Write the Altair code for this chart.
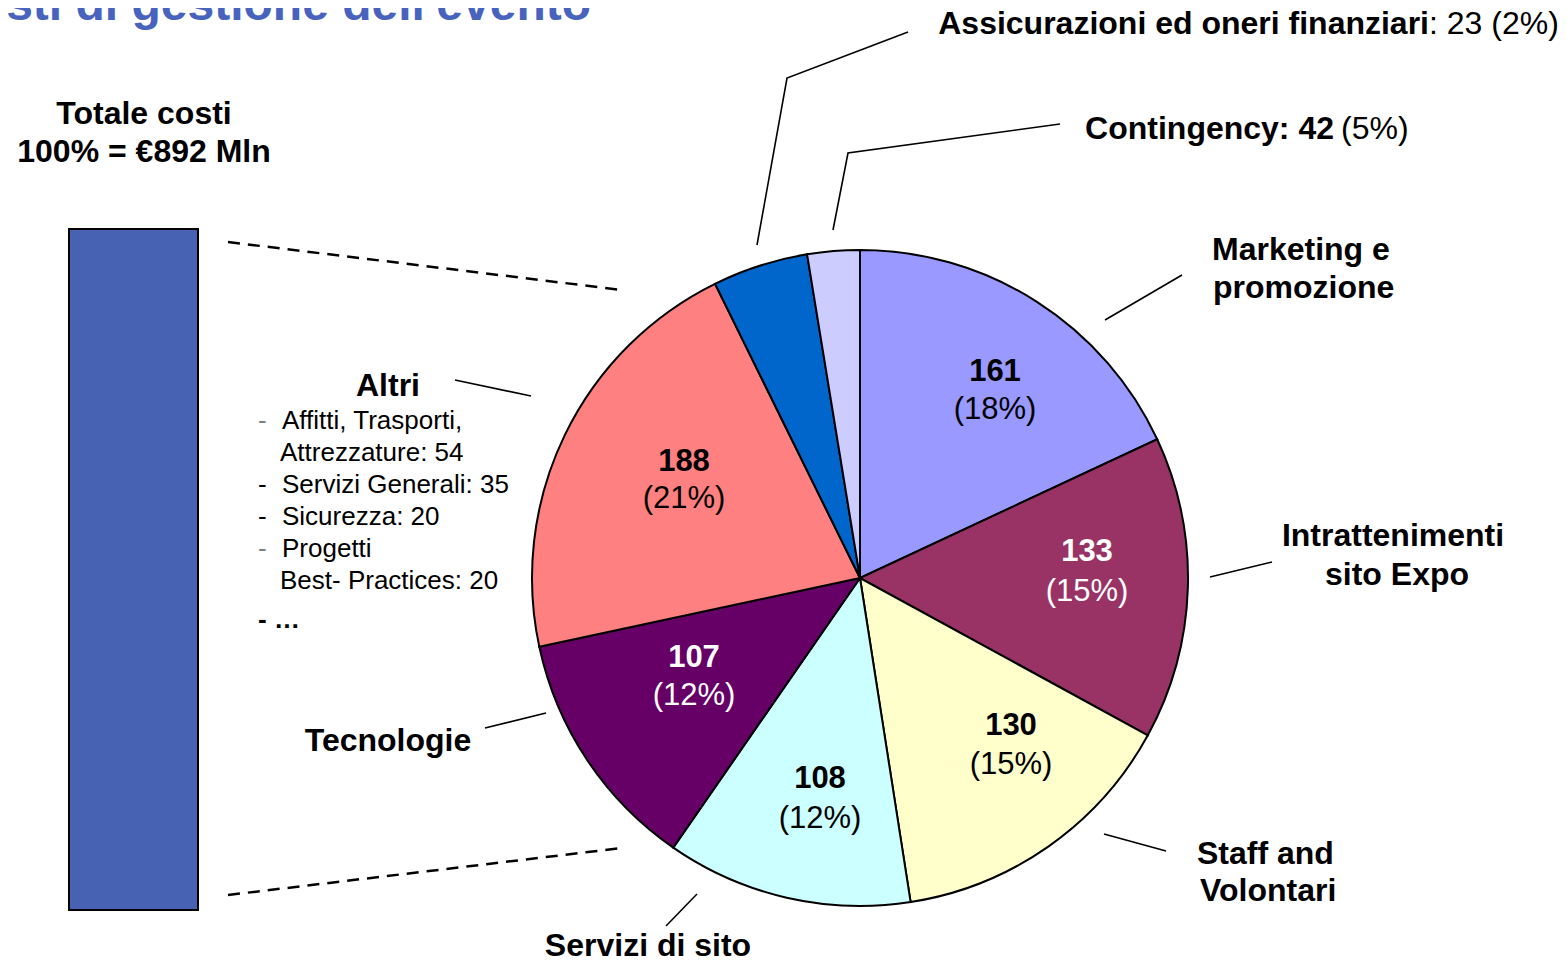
import altair as alt
import pandas as pd

# ---------------- data ----------------
categories = ["Marketing e promozione", "Intrattenimenti sito Expo", "Staff and Volontari",
              "Servizi di sito", "Tecnologie", "Altri", "Contingency",
              "Assicurazioni ed oneri finanziari"]
values = [161, 133, 130, 108, 107, 188, 42, 23]
percents = [18, 15, 15, 12, 12, 21, 5, 2]
colors = ["#9999FF", "#993366", "#FFFFCC", "#CCFFFF", "#660066", "#FF8080", "#0066CC", "#CCCCFF"]
total_label = ["Totale costi", "100% = €892 Mln"]
altri_items = ["Affitti, Trasporti,", "Attrezzature: 54", "Servizi Generali: 35",
               "Sicurezza: 20", "Progetti", "Best- Practices: 20"]
title_text = "Costi di gestione dell'evento"

# ---------------- layout (page pixel coordinates) ----------------
W, H = 1550, 953
FONT = "Liberation Sans"
xs = alt.Scale(domain=[8, 8 + W], nice=False, zero=False)
ys = alt.Scale(domain=[8, 8 + H], nice=False, zero=False, reverse=True)
X = alt.X("x:Q", scale=xs, axis=None)
Y = alt.Y("y:Q", scale=ys, axis=None)
X2 = alt.X2("x2:Q")
Y2 = alt.Y2("y2:Q")

PIE_CX, PIE_CY, PIE_R = 860, 578, 328

# inner label positions per slice (value line, percent line)
inner_pos = {
    "Marketing e promozione": (995, 372, 410),
    "Intrattenimenti sito Expo": (1087, 552, 592),
    "Staff and Volontari": (1011, 726, 765),
    "Servizi di sito": (820, 779, 819),
    "Tecnologie": (694, 658, 696),
    "Altri": (684, 462, 499),
}
dark = {"Intrattenimenti sito Expo", "Tecnologie"}

pie_df = pd.DataFrame({"cat": categories, "value": values, "idx": list(range(len(values)))})

rows = []
def add(text, x, y, style):
    rows.append({"text": text, "x": x, "y": y, "style": style})

add(title_text, 591, 20, "title")
add(total_label[0], 144, 114, "bold_c")
add(total_label[1], 144, 152, "bold_c")
add("Altri", 388, 386, "bold_c")
add("Tecnologie", 388, 741, "bold_c")
add("Servizi di sito", 648, 946, "bold_c")
add("Intrattenimenti", 1393, 536, "bold_c")
add("sito Expo", 1397, 575, "bold_c")
add("Marketing e", 1212, 250, "bold_l")
add("promozione", 1213, 288, "bold_l")
add("Staff and", 1197, 854, "bold_l")
add("Volontari", 1200, 891, "bold_l")
add("Assicurazioni ed oneri finanziari", 1429, 24, "bold_r")
add(": %d (%d%%)" % (values[7], percents[7]), 1429, 24, "reg_l")
add("Contingency: %d" % values[6], 1334, 129, "bold_r")
add("(%d%%)" % percents[6], 1341, 129, "reg_l")
for c, v, p in zip(categories, values, percents):
    if c in inner_pos:
        px, vy, py = inner_pos[c]
        suffix = "_w" if c in dark else ""
        add(str(v), px, vy, "val" + suffix)
        add("(%d%%)" % p, px, py, "pct" + suffix)
# Altri list
list_y = [421, 453, 485, 517, 549, 581]
list_x = [282, 280, 282, 282, 282, 280]
for t, lx, ly in zip(altri_items, list_x, list_y):
    add(t, lx, ly, "list")
add("-", 258, 421, "list_gray")
add("-", 258, 485, "list")
add("-", 258, 517, "list")
add("-", 258, 549, "list_gray")
add("- …", 258, 620, "list_bold")
text_df = pd.DataFrame(rows)

# leader lines (solid)
leaders = [
    ("ass", [(908, 32), (787, 78), (757, 245)]),
    ("con", [(1060, 124), (848, 153), (833, 230)]),
    ("mkt", [(1182, 275), (1105, 320)]),
    ("int", [(1272, 562), (1210, 577)]),
    ("stf", [(1166, 851), (1104, 834)]),
    ("srv", [(697, 894), (666, 926)]),
    ("tec", [(485, 728), (546, 713)]),
    ("alt", [(455, 380), (531, 396)]),
]
lead_rows = []
for lid, pts in leaders:
    for i, (px, py) in enumerate(pts):
        lead_rows.append({"id": lid, "ord": i, "x": px, "y": py})
lead_df = pd.DataFrame(lead_rows)

dash_df = pd.DataFrame([
    {"id": "top", "ord": 0, "x": 228, "y": 242}, {"id": "top", "ord": 1, "x": 622, "y": 290},
    {"id": "bot", "ord": 0, "x": 228, "y": 895}, {"id": "bot", "ord": 1, "x": 622, "y": 848},
])

bar_df = pd.DataFrame([{"x": 69, "x2": 198, "y": 229, "y2": 910, "total": sum(values)}])

# ---------------- chart ----------------
pie = alt.Chart(pie_df).mark_arc(radius=PIE_R, stroke="black", strokeWidth=2).encode(
    theta=alt.Theta("value:Q", stack=True),
    color=alt.Color("cat:N", scale=alt.Scale(domain=categories, range=colors), legend=None),
    order=alt.Order("idx:Q"),
    x=alt.value(PIE_CX - 8),
    y=alt.value(PIE_CY - 8),
)

bar = alt.Chart(bar_df).mark_rect(color="#4762B3", stroke="black", strokeWidth=2).encode(
    x=X, x2=X2, y=Y, y2=Y2)

dashes = alt.Chart(dash_df).mark_line(color="black", strokeWidth=2.5, strokeDash=[12, 8]).encode(
    x=X, y=Y, detail="id:N", order="ord:Q")

lines = alt.Chart(lead_df).mark_line(color="black", strokeWidth=1.6).encode(
    x=X, y=Y, detail="id:N", order="ord:Q")

def txt(style, size, weight, align, color, baseline="middle"):
    return alt.Chart(text_df).transform_filter(alt.datum.style == style).mark_text(
        font=FONT, fontSize=size, fontWeight=weight, align=align, baseline=baseline, color=color
    ).encode(x=X, y=Y, text="text:N")

texts = [
    txt("title", 48, "bold", "right", "#4863BE", baseline="alphabetic"),
    txt("bold_c", 32, "bold", "center", "black"),
    txt("bold_l", 32, "bold", "left", "black"),
    txt("bold_r", 32, "bold", "right", "black"),
    txt("reg_l", 32, "normal", "left", "black"),
    txt("val", 31, "bold", "center", "black"),
    txt("pct", 31, "normal", "center", "black"),
    txt("val_w", 31, "bold", "center", "white"),
    txt("pct_w", 31, "normal", "center", "white"),
    txt("list", 26, "normal", "left", "black"),
    txt("list_gray", 26, "normal", "left", "#808080"),
    txt("list_bold", 26, "bold", "left", "black"),
]

chart = alt.layer(bar, dashes, pie, lines, *texts).properties(
    width=W, height=H, padding=0,
    autosize=alt.AutoSizeParams(type="none"),
    background="white",
).configure_view(stroke=None)

chart.save("out.html", embed_options={"renderer": "svg", "actions": False})
